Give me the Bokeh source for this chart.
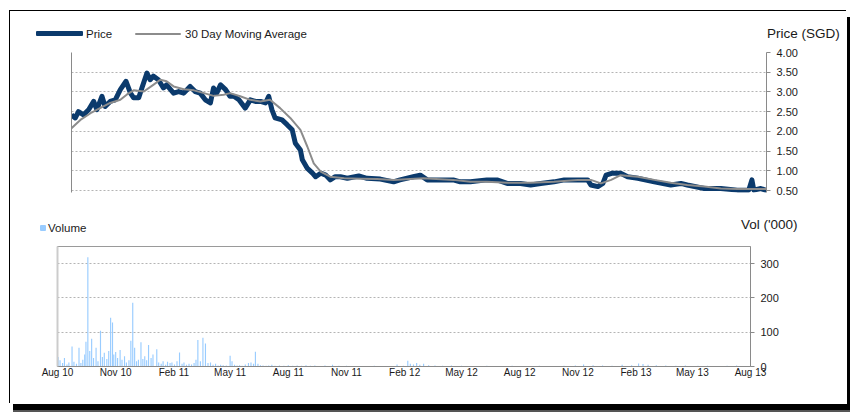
import pandas as pd
from bokeh.plotting import figure
from bokeh.layouts import column, row
from bokeh.models import Range1d, FixedTicker, NumeralTickFormatter, LinearAxis, Div
from bokeh.embed import file_html
from bokeh.resources import INLINE

# ---------------- data ----------------
price_dates = ["2010-08-01", "2010-08-07", "2010-08-12", "2010-08-20", "2010-08-28", "2010-09-05",
               "2010-09-10", "2010-09-18", "2010-09-23", "2010-10-01", "2010-10-09", "2010-10-17",
               "2010-10-26", "2010-11-02", "2010-11-07", "2010-11-15", "2010-11-20", "2010-11-28",
               "2010-12-03", "2010-12-08", "2010-12-16", "2010-12-24", "2010-12-29",
               "2011-01-09", "2011-01-17", "2011-01-25", "2011-02-04", "2011-02-12", "2011-02-20",
               "2011-02-28", "2011-03-08", "2011-03-13", "2011-03-18", "2011-03-24", "2011-04-01",
               "2011-04-08", "2011-04-14", "2011-04-22", "2011-05-02", "2011-05-10", "2011-05-18",
               "2011-05-26", "2011-06-03", "2011-06-08", "2011-06-13", "2011-06-18", "2011-06-29",
               "2011-07-07", "2011-07-15", "2011-07-20", "2011-07-28", "2011-07-31", "2011-08-08",
               "2011-08-16", "2011-08-21", "2011-08-29", "2011-09-06", "2011-09-13", "2011-09-21",
               "2011-09-29", "2011-10-10", "2011-10-28", "2011-11-10", "2011-12-01", "2011-12-22",
               "2012-01-01", "2012-01-22", "2012-02-02", "2012-02-13", "2012-02-28", "2012-03-25",
               "2012-04-05", "2012-04-21", "2012-05-17", "2012-06-02", "2012-06-18", "2012-07-09",
               "2012-07-25", "2012-08-10", "2012-08-31", "2012-09-16", "2012-10-07", "2012-10-23",
               "2012-10-28", "2012-11-08", "2012-11-16", "2012-11-21", "2012-12-01", "2012-12-14",
               "2012-12-25", "2013-01-10", "2013-02-05", "2013-03-03", "2013-03-19", "2013-03-29",
               "2013-04-25", "2013-05-21", "2013-06-16", "2013-07-04", "2013-07-09", "2013-07-12",
               "2013-07-23", "2013-08-01"]
price_sgd = [2.42, 2.34, 2.50, 2.42, 2.55, 2.76, 2.55, 2.89, 2.63, 2.76, 2.80, 3.06, 3.27, 2.97,
             2.85, 2.85, 3.10, 3.48, 3.31, 3.40, 3.31, 3.10, 3.18,
             2.97, 3.01, 2.97, 3.14, 3.01, 2.97, 2.80, 2.72, 3.10, 2.97, 3.18, 3.06, 2.89, 2.89,
             2.80, 2.59, 2.80, 2.76, 2.76, 2.72, 2.89, 2.55, 2.34, 2.29, 2.17, 2.04, 1.70, 1.53,
             1.28, 1.06, 0.94, 0.85, 0.94, 0.89, 0.77, 0.85, 0.85, 0.81, 0.87, 0.81, 0.79, 0.72,
             0.77, 0.85, 0.89, 0.77, 0.77, 0.77, 0.72, 0.72, 0.77, 0.77, 0.68, 0.68, 0.64, 0.68,
             0.72, 0.77, 0.77, 0.77, 0.64, 0.60, 0.68, 0.89, 0.94, 0.94, 0.85, 0.81, 0.72, 0.64,
             0.68, 0.64, 0.55, 0.55, 0.51, 0.51, 0.77, 0.51, 0.55, 0.50]

ma_dates = ["2010-08-01", "2010-08-15", "2010-08-31", "2010-09-15", "2010-10-01", "2010-10-17",
            "2010-10-27", "2010-11-07", "2010-11-23", "2010-12-08", "2010-12-19", "2010-12-29",
            "2011-01-09", "2011-01-25", "2011-02-10", "2011-02-26", "2011-03-13", "2011-03-29",
            "2011-04-08", "2011-04-24", "2011-05-10", "2011-05-26", "2011-06-10", "2011-06-26",
            "2011-07-12", "2011-07-28", "2011-08-08", "2011-08-18", "2011-08-29", "2011-09-13",
            "2011-10-05", "2011-10-31", "2011-11-26", "2011-12-22", "2012-01-17", "2012-02-07",
            "2012-03-25", "2012-04-21", "2012-05-17", "2012-06-18", "2012-07-25", "2012-08-31",
            "2012-10-07", "2012-10-28", "2012-11-13", "2012-11-29", "2012-12-14", "2013-01-10",
            "2013-02-05", "2013-03-03", "2013-03-29", "2013-04-25", "2013-05-21", "2013-06-16",
            "2013-07-12", "2013-08-01"]
ma_sgd = [2.08, 2.29, 2.46, 2.59, 2.72, 2.80, 2.93, 3.04, 3.01, 3.18, 3.31, 3.27,
          3.14, 3.07, 3.04, 2.97, 2.90, 2.93, 2.97, 2.89, 2.80, 2.76, 2.80, 2.59,
          2.34, 2.04, 1.61, 1.19, 0.98, 0.85, 0.81, 0.80, 0.79, 0.77, 0.79, 0.81,
          0.77, 0.72, 0.72, 0.70, 0.70, 0.72, 0.77, 0.77, 0.68, 0.77, 0.89, 0.85,
          0.77, 0.70, 0.64, 0.60, 0.55, 0.54, 0.54, 0.54]

vol_dates = ["2010-08-02", "2010-08-05", "2010-08-09", "2010-08-12", "2010-08-16", "2010-08-19",
             "2010-08-24", "2010-08-27", "2010-08-31", "2010-09-04", "2010-09-07", "2010-09-10",
             "2010-09-13", "2010-09-15", "2010-09-18", "2010-09-21", "2010-09-24", "2010-09-27",
             "2010-10-01", "2010-10-04", "2010-10-08", "2010-10-11", "2010-10-14", "2010-10-18",
             "2010-10-21", "2010-10-24", "2010-10-27", "2010-10-29", "2010-11-01", "2010-11-04",
             "2010-11-08", "2010-11-11", "2010-11-15", "2010-11-18", "2010-11-22", "2010-11-25",
             "2010-11-28", "2010-12-01", "2010-12-04", "2010-12-07", "2010-12-11", "2010-12-14",
             "2010-12-17", "2010-12-20", "2010-12-23", "2010-12-27", "2010-12-30", "2011-01-05",
             "2011-01-08", "2011-01-12", "2011-01-15", "2011-01-19", "2011-01-22", "2011-01-26",
             "2011-01-29", "2011-02-02", "2011-02-06", "2011-02-10", "2011-02-14", "2011-02-17",
             "2011-02-21", "2011-02-25", "2011-03-01", "2011-03-05", "2011-03-08", "2011-03-11",
             "2011-03-15", "2011-03-19", "2011-03-23", "2011-03-27", "2011-03-31", "2011-04-04",
             "2011-04-08", "2011-04-12", "2011-04-16", "2011-04-20", "2011-04-25", "2011-05-01",
             "2011-05-04", "2011-05-08", "2011-05-12", "2011-05-16", "2011-05-20", "2011-05-25",
             "2011-05-30", "2011-06-03", "2011-06-07", "2011-06-10", "2011-06-14", "2011-06-18",
             "2011-06-22", "2011-06-27", "2011-07-01", "2011-07-06", "2011-07-11", "2011-07-18",
             "2011-07-25", "2011-08-01", "2011-08-08", "2011-08-15", "2011-08-22", "2011-08-29",
             "2011-09-05", "2011-09-12", "2011-09-20", "2011-09-28", "2011-10-10", "2011-10-20",
             "2011-11-01", "2011-11-15", "2011-12-01", "2011-12-15", "2012-01-05", "2012-01-20",
             "2012-01-30", "2012-02-06", "2012-02-10", "2012-02-15", "2012-02-20", "2012-02-25",
             "2012-03-02", "2012-03-10", "2012-03-20", "2012-04-01", "2012-04-15", "2012-05-01",
             "2012-05-20", "2012-06-10", "2012-07-01", "2012-07-20", "2012-08-10", "2012-09-01",
             "2012-09-20", "2012-10-10", "2012-10-28", "2012-11-10", "2012-11-25", "2012-12-10",
             "2012-12-25", "2013-01-10", "2013-01-25", "2013-02-05", "2013-02-12", "2013-02-20",
             "2013-03-05", "2013-03-20", "2013-04-05", "2013-04-20", "2013-05-10", "2013-05-25",
             "2013-06-10", "2013-06-25", "2013-07-10", "2013-07-25"]
vol_k = [28, 18, 10, 25, 6, 12, 58, 14, 8, 55, 10, 20,
         35, 72, 319, 45, 81, 25, 55, 15, 104, 28, 40, 22,
         45, 142, 128, 35, 42, 25, 48, 20, 30, 12, 18, 75,
         186, 55, 15, 20, 71, 22, 30, 18, 63, 25, 35, 50,
         12, 8, 15, 5, 14, 10, 12, 6, 15, 41, 8, 12,
         5, 8, 6, 10, 20, 77, 15, 84, 67, 10, 12, 5,
         8, 3, 5, 4, 3, 31, 15, 5, 3, 4, 2, 6,
         10, 12, 8, 43, 8, 4, 3, 2, 3, 5, 2, 3,
         2, 4, 2, 3, 2, 4, 2, 3, 1, 3, 5, 2,
         2, 1, 1, 2, 1, 6, 2, 17, 8, 6, 10, 5,
         8, 4, 3, 2, 3, 2, 1, 2, 1, 2, 1, 2,
         1, 2, 3, 6, 4, 3, 2, 5, 4, 9, 7, 5,
         4, 3, 2, 3, 2, 2, 1, 2, 3, 1]

tick_dates = ["2010-08-01", "2010-11-01", "2011-02-01", "2011-05-01", "2011-08-01", "2011-11-01",
              "2012-02-01", "2012-05-01", "2012-08-01", "2012-11-01", "2013-02-01", "2013-05-01",
              "2013-08-01"]
tick_labels = ["Aug 10", "Nov 10", "Feb 11", "May 11", "Aug 11", "Nov 11", "Feb 12", "May 12",
               "Aug 12", "Nov 12", "Feb 13", "May 13", "Aug 13"]
price_ticks = [0.5, 1.0, 1.5, 2.0, 2.5, 3.0, 3.5, 4.0]
vol_ticks = [0, 100, 200, 300]

series_names = ["Price", "30 Day Moving Average", "Volume"]
axis_titles = ["Price (SGD)", "Vol ('000)"]

PRICE_COLOR = "#0b3a6c"
MA_COLOR = "#8c8c8c"
VOL_COLOR = "#99ccff"
FONT = "Liberation Sans"
TXT = "#1a1a1a"


def ms(s):
    return pd.Timestamp(s).value / 1e6


x_start, x_end = ms("2010-08-01"), ms("2013-08-01")


def style_right_axis(ax, ticks):
    ax.ticker = FixedTicker(ticks=ticks)
    ax.axis_line_color = "#8a8a8a"
    ax.major_tick_line_color = "#8a8a8a"
    ax.major_tick_out = 4
    ax.major_tick_in = 0
    ax.minor_tick_line_color = None
    ax.major_label_standoff = 6
    ax.major_label_text_font = FONT
    ax.major_label_text_font_size = "11px"
    ax.major_label_text_color = TXT


def span(left, top, text, size):
    return (f'<span style="position:absolute;left:{left}px;top:{top}px;line-height:14px;'
            f'font-size:{size};white-space:nowrap;color:{TXT}">{text}</span>')


def swatch(left, top, w, h, color):
    return (f'<span style="position:absolute;left:{left}px;top:{top}px;width:{w}px;'
            f'height:{h}px;background:{color};border-radius:1px"></span>')


def header(height, parts):
    html = (f'<div style="position:relative;width:837px;height:{height}px;'
            f'font-family:\'{FONT}\',Arial,sans-serif">' + "".join(parts) + "</div>")
    return Div(text=html, width=837, height=height, margin=0)


# ---------------- header of top panel (legend + axis title) ----------------
head_top = header(30, [
    swatch(26, 20, 47, 5, PRICE_COLOR),
    span(76, 16, series_names[0], "11.5px"),
    swatch(125, 22, 46, 2, MA_COLOR),
    span(175, 16, series_names[1], "11.5px"),
    span(757, 16, axis_titles[0], "13.5px"),
])

# ---------------- top: price ----------------
top = figure(width=837, height=169, output_backend="svg", toolbar_location=None,
             x_range=Range1d(x_start, x_end), y_range=Range1d(0.45, 4.0),
             x_axis_location=None, y_axis_location="right",
             min_border_left=61, min_border_right=81, min_border_top=11, min_border_bottom=18)
top.outline_line_color = None
top.xgrid.visible = False
top.ygrid.grid_line_color = "#b4b4b4"
top.ygrid.grid_line_dash = "2 2"
top.ygrid.ticker = FixedTicker(ticks=price_ticks)
style_right_axis(top.yaxis[0], price_ticks)
top.yaxis[0].formatter = NumeralTickFormatter(format="0.00")

top.add_layout(LinearAxis(ticker=FixedTicker(ticks=[]), axis_line_color="#8a8a8a",
                          major_tick_line_color=None, minor_tick_line_color=None), "left")

pdx = [ms(d) for d in price_dates]
mdx = [ms(d) for d in ma_dates]
top.line(pdx, price_sgd, line_width=5, line_color=PRICE_COLOR, line_join="round")
top.line(mdx, ma_sgd, line_width=2, line_color=MA_COLOR, line_join="round")

# ---------------- header of bottom panel ----------------
head_bot = header(26, [
    swatch(30, 15, 6, 6, VOL_COLOR),
    span(38, 11, series_names[2], "11.5px"),
    span(731, 8, axis_titles[1], "13.5px"),
])

# ---------------- bottom: volume ----------------
bot = figure(width=837, height=168, output_backend="svg", toolbar_location=None,
             x_range=Range1d(x_start, x_end), y_range=Range1d(0, 350),
             y_axis_location="right",
             min_border_left=47, min_border_right=97, min_border_top=10, min_border_bottom=38)
bot.outline_line_color = "#9a9a9a"
bot.xgrid.visible = False
bot.ygrid.grid_line_color = "#b4b4b4"
bot.ygrid.grid_line_dash = "2 2"
bot.ygrid.ticker = FixedTicker(ticks=[100, 200, 300])

vdx = [ms(d) for d in vol_dates]
bot.vbar(x=vdx, top=vol_k, width=1.8 * 86400000, fill_color=VOL_COLOR, line_color=None)
style_right_axis(bot.yaxis[0], vol_ticks)

bx = bot.xaxis[0]
tick_ms = [ms(d) for d in tick_dates]
bx.ticker = FixedTicker(ticks=tick_ms)
bx.major_label_overrides = {t: lab for t, lab in zip(tick_ms, tick_labels)}
bx.axis_line_color = "#8a8a8a"
bx.major_tick_line_color = None
bx.major_tick_out = 0
bx.major_tick_in = 0
bx.minor_tick_line_color = None
bx.major_label_standoff = 0
bx.major_label_text_font = FONT
bx.major_label_text_font_size = "10px"
bx.major_label_text_color = TXT

bot.add_layout(LinearAxis(ticker=FixedTicker(ticks=[]), axis_line_color="#cccccc",
                          axis_line_width=2, major_tick_line_color=None,
                          minor_tick_line_color=None), "left")

# each figure in its own box so that their frames are not aligned to each other
upper = column(head_top, row(top, margin=0), margin=0, spacing=0)
lower = column(head_bot, row(bot, margin=0), margin=0, spacing=0)
layout = column(upper, lower, margin=(11, 0, 0, 10), spacing=0,
                styles={"box-shadow": "-1px -1px 0 0 #000, 3px 6px 0 0 #000, 3px 8px 0 0 #555",
                        "background": "white"})

open("out.html", "w").write(file_html(layout, INLINE))
